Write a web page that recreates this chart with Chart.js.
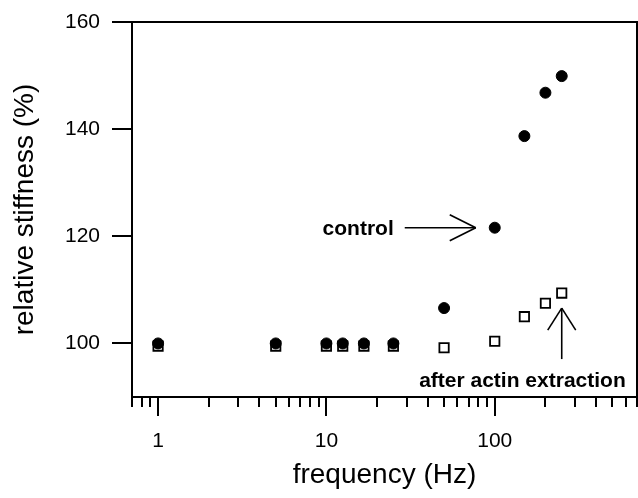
<!DOCTYPE html>
<html><head><meta charset="utf-8">
<script src="https://cdn.jsdelivr.net/npm/chart.js@4/dist/chart.umd.min.js"></script>
<style>html,body{margin:0;padding:0;background:#fff}#wrap{width:638px;height:498px}</style>
</head><body><div id="wrap"><canvas id="c" width="638" height="498"></canvas></div>
<script>
// ---- data ----
const controlFreq  = [1, 5, 10, 12.5, 16.7, 25, 50, 100, 150, 200, 250];
const controlStiff = [100, 100, 100, 100, 100, 100, 106.6, 121.6, 138.7, 146.8, 149.9];
const actinFreq    = [1, 5, 10, 12.5, 16.7, 25, 50, 100, 150, 200, 250];
const actinStiff   = [99.5, 99.5, 99.5, 99.5, 99.5, 99.5, 99.2, 100.4, 105.0, 107.5, 109.4];
const yTickValues  = [100, 120, 140, 160];
const xMajorTicks  = [1, 10, 100];
const xRange = [0.7, 700];
const yRange = [90, 160];
const controlLabel = 'control';
const actinLabel = 'after actin extraction';

const FONT = '"Liberation Sans", Arial, Helvetica, sans-serif';
Chart.defaults.font.family = FONT;
Chart.defaults.color = '#000';

function toPoints(xs, ys){ return xs.map((x,i)=>({x:x, y:ys[i]})); }

// minor tick positions of the log axis (1..9 per decade)
const xAllTicks = [];
for (let d = 0.1; d <= 100; d *= 10) {
  for (let k = 1; k <= 9; k++) {
    const v = +(k * d).toPrecision(3);
    if (v >= xRange[0] - 1e-9 && v <= xRange[1] + 1e-9) xAllTicks.push(v);
  }
}

const framePlugin = {
  id: 'frame',
  afterDraw(chart){
    const {ctx, chartArea: a, scales: {x, y}} = chart;
    const line = (x1,y1,x2,y2)=>{ctx.beginPath();ctx.moveTo(x1,y1);ctx.lineTo(x2,y2);ctx.stroke();};
    ctx.save();
    ctx.strokeStyle = '#000';
    ctx.lineWidth = 2;
    ctx.lineCap = 'butt';
    ctx.strokeRect(a.left, a.top, a.right - a.left, a.bottom - a.top);
    yTickValues.forEach(v => { const p = Math.round(y.getPixelForValue(v)); line(a.left - 20, p, a.left, p); });
    x.ticks.forEach(t => {
      const p = Math.round(x.getPixelForValue(t.value));
      const len = xMajorTicks.includes(t.value) ? 19 : 10;
      line(p, a.bottom, p, a.bottom + len);
    });

    // annotations anchored on data points
    ctx.lineWidth = 1.6;
    ctx.fillStyle = '#000';
    ctx.font = 'bold 21px ' + FONT;
    // control
    const ci = controlFreq.indexOf(100);
    const px = x.getPixelForValue(controlFreq[ci]);
    const py = y.getPixelForValue(controlStiff[ci]);
    const tipX = px - 19;
    line(px - 90, py, tipX, py);
    line(tipX - 26, py - 13, tipX, py);
    line(tipX - 26, py + 13, tipX, py);
    ctx.textAlign = 'right'; ctx.textBaseline = 'middle';
    ctx.fillText(controlLabel, px - 101, py + 1);
    // after actin extraction
    const ai = actinFreq.length - 1;
    const qx = x.getPixelForValue(actinFreq[ai]);
    const qy = y.getPixelForValue(actinStiff[ai]);
    const tipY = qy + 15;
    line(qx, tipY, qx, qy + 66);
    line(qx - 14, tipY + 22, qx, tipY);
    line(qx + 14, tipY + 22, qx, tipY);
    ctx.fillText(actinLabel, qx + 64, qy + 88);
    ctx.restore();
  }
};

new Chart(document.getElementById('c'), {
  type: 'scatter',
  data: {
    datasets: [
      {
        label: controlLabel,
        data: toPoints(controlFreq, controlStiff),
        pointStyle: 'circle',
        pointRadius: 5.5,
        borderWidth: 1,
        backgroundColor: '#000',
        borderColor: '#000'
      },
      {
        label: actinLabel,
        data: toPoints(actinFreq, actinStiff),
        pointStyle: 'rect',
        pointRadius: 6.6,
        borderWidth: 1.8,
        backgroundColor: '#fff',
        borderColor: '#000'
      }
    ]
  },
  options: {
    responsive: false,
    animation: false,
    devicePixelRatio: 1,
    layout: { autoPadding: false, padding: { top: 22, right: 1, left: 0, bottom: 0 } },
    plugins: { legend: { display: false }, tooltip: { enabled: false } },
    scales: {
      x: {
        type: 'logarithmic',
        min: xRange[0], max: xRange[1],
        afterBuildTicks: s => { s.ticks = xAllTicks.map(v => ({value: v, major: xMajorTicks.includes(v)})); },
        afterFit: s => { s.height = 101; },
        grid: { display: false, drawTicks: true, tickLength: 32 },
        border: { display: false },
        ticks: {
          autoSkip: false, maxRotation: 0, minRotation: 0,
          padding: 0,
          font: { size: 21 },
          color: '#000',
          callback: v => xMajorTicks.includes(v) ? String(v) : ''
        },
        title: { display: true, text: 'frequency (Hz)', font: { size: 28 }, color: '#000', padding: { top: 0, bottom: 6 } }
      },
      y: {
        type: 'linear',
        min: yRange[0], max: yRange[1],
        afterBuildTicks: s => { s.ticks = yTickValues.map(v => ({value: v})); },
        afterFit: s => { s.width = 132; },
        grid: { display: false, drawTicks: true, tickLength: 32 },
        border: { display: false },
        ticks: { padding: 0, font: { size: 21 }, color: '#000' },
        title: { display: true, text: 'relative stiffness (%)', font: { size: 28 }, color: '#000', padding: { top: 8, bottom: 0 } }
      }
    }
  },
  plugins: [framePlugin]
});
</script>
</body></html>
